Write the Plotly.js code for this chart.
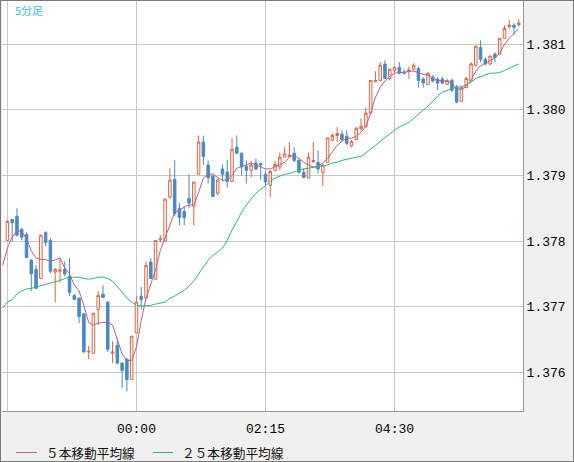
<!DOCTYPE html>
<html>
<head>
<meta charset="utf-8">
<script src="https://cdn.plot.ly/plotly-3.0.1.min.js"></script>
<style>
html,body{margin:0;padding:0;background:#f0f0f0;}
#wrap{width:572px;height:460px;border:1px solid #7a7a7a;}
#chart{width:572px;height:460px;}
</style>
</head>
<body>
<div id="wrap"><div id="chart"></div></div>
<script>
// 5-minute bars, first bar at 21:45, last at 06:40
const firstBar = Date.UTC(2024, 0, 1, 21, 45);
const barMinutes = 5;

const openP = [1.37801,1.37833,1.37838,1.37818,1.37810,1.37771,1.37757,1.37743,1.37813,1.37801,
1.37753,1.37754,1.37757,1.37746,1.37717,1.37713,1.37689,1.37631,1.37629,1.37696,
1.37719,1.37707,1.37629,1.37641,1.37614,1.37620,1.37589,1.37660,1.37716,1.37713,
1.37768,1.37742,1.37802,1.37800,1.37867,1.37894,1.37850,1.37845,1.37865,1.37853,
1.37902,1.37951,1.37916,1.37899,1.37873,1.37910,1.37905,1.37891,1.37943,1.37934,
1.37914,1.37908,1.37919,1.37918,1.37902,1.37885,1.37908,1.37913,1.37928,1.37929,
1.37934,1.37923,1.37905,1.37896,1.37921,1.37920,1.37905,1.37920,1.37954,1.37961,
1.37963,1.37960,1.37945,1.37955,1.37971,1.37974,1.37995,1.38043,1.38045,1.38070,
1.38048,1.38060,1.38065,1.38058,1.38059,1.38062,1.38063,1.38047,1.38039,1.38050,
1.38047,1.38047,1.38039,1.38045,1.38034,1.38013,1.38034,1.38044,1.38068,1.38095,
1.38077,1.38070,1.38085,1.38085,1.38109,1.38127,1.38129,1.38130];
const highP = [1.37832,1.37834,1.37850,1.37820,1.37813,1.37772,1.37763,1.37810,1.37815,1.37804,
1.37759,1.37775,1.37769,1.37774,1.37719,1.37714,1.37690,1.37640,1.37690,1.37724,
1.37733,1.37708,1.37647,1.37652,1.37615,1.37621,1.37655,1.37716,1.37730,1.37769,
1.37774,1.37801,1.37809,1.37864,1.37911,1.37923,1.37858,1.37853,1.37902,1.37890,
1.37961,1.37961,1.37923,1.37900,1.37896,1.37917,1.37923,1.37957,1.37961,1.37935,
1.37923,1.37922,1.37926,1.37920,1.37906,1.37908,1.37922,1.37935,1.37943,1.37951,
1.37943,1.37926,1.37911,1.37935,1.37951,1.37938,1.37917,1.37958,1.37964,1.37974,
1.37969,1.37969,1.37954,1.37974,1.37987,1.38004,1.38045,1.38059,1.38073,1.38076,
1.38063,1.38066,1.38073,1.38062,1.38066,1.38071,1.38066,1.38050,1.38057,1.38053,
1.38050,1.38050,1.38047,1.38048,1.38038,1.38036,1.38050,1.38073,1.38098,1.38106,
1.38080,1.38083,1.38088,1.38109,1.38129,1.38137,1.38132,1.38138];
const lowP = [1.37800,1.37800,1.37807,1.37801,1.37774,1.37724,1.37727,1.37742,1.37792,1.37751,
1.37707,1.37737,1.37746,1.37716,1.37710,1.37675,1.37630,1.37620,1.37629,1.37672,
1.37714,1.37631,1.37614,1.37612,1.37576,1.37571,1.37589,1.37660,1.37696,1.37713,
1.37742,1.37741,1.37798,1.37800,1.37864,1.37838,1.37824,1.37824,1.37850,1.37824,
1.37902,1.37916,1.37888,1.37867,1.37870,1.37891,1.37882,1.37891,1.37933,1.37900,
1.37888,1.37897,1.37908,1.37893,1.37885,1.37867,1.37906,1.37908,1.37928,1.37928,
1.37920,1.37903,1.37896,1.37896,1.37919,1.37903,1.37884,1.37920,1.37952,1.37951,
1.37952,1.37946,1.37943,1.37954,1.37969,1.37974,1.37995,1.38042,1.38045,1.38047,
1.38045,1.38057,1.38054,1.38054,1.38047,1.38060,1.38034,1.38034,1.38039,1.38042,
1.38030,1.38039,1.38038,1.38027,1.38010,1.38013,1.38033,1.38044,1.38066,1.38073,
1.38068,1.38068,1.38073,1.38085,1.38109,1.38124,1.38114,1.38127];
const closeP = [1.37830,1.37828,1.37809,1.37806,1.37775,1.37750,1.37728,1.37809,1.37798,1.37754,
1.37757,1.37756,1.37750,1.37722,1.37711,1.37685,1.37631,1.37632,1.37690,1.37717,
1.37714,1.37635,1.37631,1.37614,1.37603,1.37589,1.37655,1.37707,1.37711,1.37763,
1.37743,1.37801,1.37804,1.37864,1.37893,1.37842,1.37836,1.37836,1.37858,1.37890,
1.37951,1.37929,1.37897,1.37868,1.37893,1.37902,1.37891,1.37940,1.37934,1.37913,
1.37908,1.37916,1.37910,1.37916,1.37890,1.37906,1.37917,1.37928,1.37933,1.37931,
1.37923,1.37905,1.37897,1.37928,1.37923,1.37910,1.37916,1.37957,1.37961,1.37964,
1.37955,1.37949,1.37952,1.37972,1.37975,1.37995,1.38045,1.38045,1.38068,1.38048,
1.38062,1.38065,1.38056,1.38056,1.38061,1.38068,1.38045,1.38041,1.38056,1.38044,
1.38041,1.38041,1.38045,1.38030,1.38012,1.38034,1.38048,1.38070,1.38097,1.38077,
1.38070,1.38082,1.38080,1.38109,1.38124,1.38129,1.38126,1.38132];

// moving averages (first value belongs to the bar before 21:45)
const ma5 = [1.37763,1.37789,1.37806,1.37815,1.37815,1.37804,1.37785,1.37774,1.37772,1.37772,1.37769,
1.37771,1.37774,1.37759,1.37750,1.37733,1.37724,1.37702,1.37676,1.37672,1.37675,
1.37676,1.37676,1.37672,1.37649,1.37628,1.37618,1.37618,1.37638,1.37679,1.37713,
1.37736,1.37756,1.37786,1.37806,1.37827,1.37844,1.37847,1.37852,1.37855,1.37855,
1.37874,1.37896,1.37902,1.37902,1.37897,1.37893,1.37893,1.37900,1.37911,1.37914,
1.37916,1.37919,1.37916,1.37913,1.37910,1.37910,1.37913,1.37916,1.37920,1.37928,
1.37931,1.37926,1.37920,1.37916,1.37913,1.37914,1.37919,1.37926,1.37937,1.37946,
1.37952,1.37957,1.37957,1.37960,1.37966,1.37975,1.37995,1.38019,1.38035,1.38044,
1.38051,1.38056,1.38057,1.38057,1.38059,1.38059,1.38057,1.38054,1.38053,1.38048,
1.38045,1.38045,1.38044,1.38041,1.38033,1.38031,1.38036,1.38045,1.38059,1.38067,
1.38071,1.38076,1.38079,1.38086,1.38100,1.38109,1.38117,1.38124];
const ma25 = [1.37698,1.37707,1.37711,1.37719,1.37724,1.37727,1.37728,1.37730,1.37731,1.37733,1.37736,
1.37737,1.37740,1.37743,1.37745,1.37745,1.37745,1.37743,1.37742,1.37743,1.37745,
1.37745,1.37743,1.37739,1.37731,1.37722,1.37713,1.37707,1.37702,1.37701,1.37701,
1.37702,1.37704,1.37705,1.37707,1.37713,1.37716,1.37721,1.37725,1.37731,1.37739,
1.37750,1.37760,1.37771,1.37778,1.37783,1.37789,1.37801,1.37817,1.37830,1.37844,
1.37855,1.37864,1.37873,1.37879,1.37884,1.37891,1.37896,1.37899,1.37902,1.37903,
1.37906,1.37908,1.37910,1.37911,1.37913,1.37913,1.37914,1.37916,1.37919,1.37920,
1.37923,1.37925,1.37926,1.37928,1.37929,1.37934,1.37940,1.37946,1.37952,1.37958,
1.37964,1.37969,1.37974,1.37977,1.37981,1.37987,1.37993,1.37999,1.38006,1.38013,
1.38021,1.38027,1.38030,1.38033,1.38035,1.38035,1.38038,1.38042,1.38048,1.38051,
1.38054,1.38056,1.38056,1.38057,1.38060,1.38064,1.38067,1.38070];

const tickTimes = ['2024-01-01 21:45','2024-01-02 00:00','2024-01-02 02:15','2024-01-02 04:30'];
const tickLabels = ['', '00:00', '02:15', '04:30'];
const legendLabels = ['５本移動平均線', '２５本移動平均線'];
const periodLabel = '5分足';

function barTime(i) {
  const d = new Date(firstBar + i * barMinutes * 60000);
  return d.toISOString().slice(0, 19).replace('T', ' ');
}
const candleX = openP.map((_, i) => barTime(i));
const maX = ma5.map((_, i) => barTime(i - 1));

const colUp = '#dd6443', colDn = '#4a8ac2', colMa5 = '#b6608d', colMa25 = '#33b37a';

const traces = [
  {
    type: 'candlestick', x: candleX, open: openP, high: highP, low: lowP, close: closeP,
    increasing: {line: {color: colUp, width: 1}, fillcolor: '#ffffff'},
    decreasing: {line: {color: colDn, width: 1}, fillcolor: colDn},
    hoverinfo: 'skip', showlegend: false
  },
  {type: 'scatter', mode: 'lines', x: maX, y: ma5, line: {color: colMa5, width: 1}, hoverinfo: 'skip', showlegend: false},
  {type: 'scatter', mode: 'lines', x: maX, y: ma25, line: {color: colMa25, width: 1}, hoverinfo: 'skip', showlegend: false}
];

const W = 521, H = 410;
function px(x) { return (x - 2) / W; }
function py(y) { return (411 - y) / H; }

const layout = {
  width: 572, height: 460,
  margin: {l: 1, r: 50, t: 0, b: 50},
  paper_bgcolor: '#f0f0f0', plot_bgcolor: '#ffffff',
  showlegend: false,
  boxgap: 0.25,
  xaxis: {
    type: 'date',
    range: ['2024-01-01 21:39:21', '2024-01-02 06:44:24'],
    tickmode: 'array', tickvals: tickTimes, ticktext: tickLabels,
    showgrid: true, gridcolor: '#c8c8c8', gridwidth: 1,
    zeroline: false, ticks: 'outside', ticklen: 5, tickcolor: 'rgba(0,0,0,0)',
    showline: true, linecolor: '#999999', linewidth: 1,
    tickfont: {family: 'Liberation Mono, DejaVu Sans Mono, monospace', size: 13, color: '#000'},
    rangeslider: {visible: false}, fixedrange: true
  },
  yaxis: {
    side: 'right',
    range: [1.37541, 1.38166],
    tick0: 1.376, dtick: 0.001, tickformat: '.3f',
    showgrid: true, gridcolor: '#c8c8c8', gridwidth: 1,
    zeroline: false, ticks: '',
    showline: true, linecolor: '#999999', linewidth: 1,
    tickfont: {family: 'Liberation Mono, DejaVu Sans Mono, monospace', size: 13, color: '#000'},
    fixedrange: true
  },
  shapes: [
    {type: 'line', xref: 'paper', yref: 'paper', x0: px(16), x1: px(37), y0: py(452.5), y1: py(452.5), line: {color: colMa5, width: 1}},
    {type: 'line', xref: 'paper', yref: 'paper', x0: px(153), x1: px(173), y0: py(452.5), y1: py(452.5), line: {color: colMa25, width: 1}}
  ],
  annotations: [
    {xref: 'paper', yref: 'paper', x: px(44), y: py(452.5), xanchor: 'left', yanchor: 'middle', showarrow: false,
     text: legendLabels[0], font: {family: 'Noto Sans CJK JP', size: 12.7, color: '#111'}},
    {xref: 'paper', yref: 'paper', x: px(180), y: py(452.5), xanchor: 'left', yanchor: 'middle', showarrow: false,
     text: legendLabels[1], font: {family: 'Noto Sans CJK JP', size: 12.7, color: '#111'}},
    {xref: 'paper', yref: 'paper', x: px(13), y: py(10), xanchor: 'left', yanchor: 'middle', showarrow: false,
     text: periodLabel, font: {family: 'Noto Sans CJK JP', size: 11, color: '#3cbcf0'}}
  ]
};

Plotly.newPlot('chart', traces, layout, {staticPlot: true, displayModeBar: false});
</script>
</body>
</html>
